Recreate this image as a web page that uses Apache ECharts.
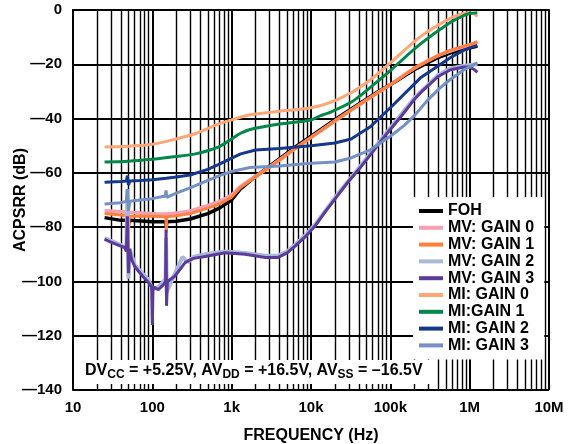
<!DOCTYPE html>
<html>
<head>
<meta charset="utf-8">
<script src="https://cdn.jsdelivr.net/npm/echarts@6/dist/echarts.min.js"></script>
<style>
html, body { margin: 0; padding: 0; background: #fff; }
#chart { width: 576px; height: 444px; }
</style>
</head>
<body>
<div id="chart"></div>
<script>
// [frequency Hz, dB]
var foh = [[25,-76.5],[40,-77.5],[48,-77.5],[49.5,-80],[51,-77.5],[100,-78],[148,-78],[150,-80],[152,-78],[200,-77.8],[300,-77],[500,-75],[700,-73],[1000,-70],[1280,-66],[2000,-61.3],[3000,-57.5],[6700,-50],[10000,-46.5],[23500,-39],[69000,-30.2],[100000,-27.5],[200000,-22],[400000,-17.5],[575000,-15.8],[1000000,-14],[1250000,-13.3]];
var mvGain0 = [[25,-74],[40,-74.3],[50,-74.5],[100,-75],[150,-75.2],[200,-74.8],[300,-74],[500,-72],[700,-70.5],[1000,-68],[1300,-65],[2000,-61.3],[3000,-57.8],[6700,-50.5],[10000,-47],[23500,-39.5],[69000,-30.5],[100000,-27.5],[200000,-21.5],[400000,-16.8],[1000000,-12.8],[1250000,-11.8]];
var mvGain1 = [[25,-75],[40,-75.5],[48,-75.8],[49.5,-88],[51,-76],[100,-76],[148,-76.2],[150,-82],[152,-76.2],[200,-75.8],[300,-75],[500,-73],[700,-71.5],[1000,-69],[1280,-65.5],[2000,-61.5],[3000,-58],[6700,-50.5],[10000,-47],[23500,-39.5],[69000,-30.5],[100000,-27.5],[200000,-21.5],[400000,-16.8],[575000,-14.8],[1000000,-12.8],[1250000,-11.7]];
var mvGain2 = [[25,-84],[30,-85],[40,-86.5],[47,-88],[48.5,-66],[50,-99],[52,-88],[60,-94],[75,-97],[90,-99.5],[100,-103],[120,-102],[147,-99],[149,-84],[152,-104],[193,-97],[240,-91],[280,-93],[330,-91],[464,-90],[830,-89],[1480,-89.5],[2650,-90.5],[3800,-90.5],[5000,-89],[6300,-86.5],[8500,-83],[11300,-79],[21500,-68],[42000,-57.5],[100000,-43.5],[200000,-32.5],[400000,-24],[575000,-21.5],[850000,-20.5],[1250000,-20]];
var mvGain3 = [[25,-84.5],[30,-85.5],[40,-87],[45,-87.5],[47,-89],[48.5,-76],[50,-97],[51.5,-88],[55,-92],[60,-94.5],[75,-98],[90,-100.5],[98,-102],[100,-116],[102,-102],[120,-103],[140,-101],[147,-100],[149,-81],[151,-109],[155,-100],[193,-98],[260,-93],[330,-91.5],[464,-90.8],[830,-89.4],[1480,-90],[2650,-91.2],[3800,-91.2],[5000,-89.5],[6300,-87],[8500,-83.5],[11300,-79.5],[15000,-74.5],[21500,-68.5],[30000,-63],[42000,-58],[61000,-52],[75000,-48.5],[100000,-44],[134000,-39.5],[200000,-33],[260000,-29.5],[400000,-24.5],[575000,-22],[850000,-21],[1000000,-21],[1150000,-22],[1250000,-23]];
var miGain0 = [[25,-50.5],[50,-50.2],[100,-49.5],[200,-47.5],[350,-45.5],[620,-42.5],[1000,-40.5],[1700,-38.6],[4000,-37.3],[10000,-36],[17600,-34],[31600,-30.6],[56000,-25.7],[100000,-19.5],[240000,-9.8],[575000,-3],[830000,-1.3],[1000000,-1],[1150000,-1.5],[1250000,-2.5]];
var miGain1 = [[25,-56],[50,-55.7],[100,-55],[200,-54],[350,-53],[700,-50.3],[1000,-47.5],[1280,-45.5],[1700,-44],[4000,-42],[10000,-40.5],[13000,-39],[18000,-37.5],[32000,-34],[42000,-31.5],[56000,-28.5],[100000,-22.3],[240000,-12.5],[575000,-4.5],[850000,-2],[1000000,-1.3],[1250000,-1]];
var miGain2 = [[25,-63.5],[40,-63.2],[47,-63],[48.5,-61],[50,-64.5],[52,-63],[70,-62.8],[100,-62.5],[150,-62],[200,-61.5],[300,-60.8],[500,-58.7],[700,-56.8],[1000,-54.6],[1300,-53],[2000,-51.6],[4000,-51],[10000,-50],[20000,-49],[32000,-47.5],[56000,-43],[100000,-36],[240000,-25],[575000,-17.5],[850000,-14.8],[1250000,-13]];
var miGain3 = [[25,-71.5],[40,-71],[47,-70.5],[48.5,-66],[50,-74],[52,-70.5],[70,-70],[100,-69.5],[145,-68.5],[149,-66.5],[152,-69],[200,-67.5],[300,-65.5],[400,-64],[700,-61],[1000,-59.5],[1700,-58],[4000,-57.5],[10000,-56.5],[20000,-56],[32000,-54.5],[56000,-51.5],[100000,-46.5],[150000,-42.5],[200000,-39],[300000,-33],[430000,-28.5],[575000,-25.5],[850000,-22],[1250000,-19.5]];

var decadeLabels = {1:'10', 2:'100', 3:'1k', 4:'10k', 5:'100k', 6:'1M', 7:'10M'};
// minor grid positions 2..9 x each decade
var minorGrid = [];
[10, 100, 1000, 10000, 100000, 1000000].forEach(function (d) {
    for (var m = 2; m <= 9; m++) minorGrid.push(m * d);
});

var FONT = 'Liberation Sans, Arial, sans-serif';

function curve(name, data, color, width, smooth) {
    return {
        name: name,
        type: 'line',
        data: data,
        symbol: 'none',
        showSymbol: false,
        smooth: smooth || false,
        animation: false,
        itemStyle: { color: color },
        lineStyle: { color: color, width: width || 3 }
    };
}

var chart = echarts.init(document.getElementById('chart'));
chart.setOption({
    animation: false,
    grid: { left: 73, right: 27, top: 10, bottom: 54, outerBoundsMode: 'none' },
    // supply line-up, drawn as a white box over the grid
    title: {
        text: '{m|DV}{s|CC}{m| = +5.25V, AV}{s|DD}{m| = +16.5V, AV}{s|SS}{m| = \u201316.5V}',
        left: 75,
        top: 358,
        backgroundColor: '#fff',
        padding: [3, 14, 3, 10],
        textStyle: {
            rich: {
                m: { fontFamily: FONT, fontWeight: 'bold', fontSize: 16, lineHeight: 20, color: '#000' },
                s: { fontFamily: FONT, fontWeight: 'bold', fontSize: 12, lineHeight: 12, verticalAlign: 'bottom', color: '#000' }
            }
        }
    },
    legend: {
        data: ['FOH', 'MV: GAIN 0', 'MV: GAIN 1', 'MV: GAIN 2', 'MV: GAIN 3', 'MI: GAIN 0', 'MI:GAIN 1', 'MI: GAIN 2', 'MI: GAIN 3'],
        orient: 'vertical',
        left: 413,
        top: 197,
        padding: [6, 10, 6, 6],
        backgroundColor: '#fff',
        itemGap: 0.8,
        itemWidth: 24,
        itemHeight: 4,
        icon: 'rect',
        selectedMode: false,
        textStyle: { fontFamily: FONT, fontWeight: 'bold', fontSize: 16, lineHeight: 15, color: '#000' }
    },
    xAxis: {
        type: 'log',
        logBase: 10,
        min: 10,
        max: 10000000,
        splitNumber: 6,
        name: 'FREQUENCY (Hz)',
        nameLocation: 'middle',
        nameGap: 38,
        nameMoveOverlap: false,
        nameTextStyle: { fontFamily: FONT, fontWeight: 'bold', fontSize: 16, color: '#000' },
        axisLine: { lineStyle: { color: '#000', width: 2 } },
        axisTick: { show: false },
        axisLabel: {
            margin: 10,
            fontFamily: FONT, fontWeight: 'bold', fontSize: 15, color: '#000',
            formatter: function (v) { return decadeLabels[Math.round(Math.log10(v))] || ''; }
        },
        splitLine: { show: true, lineStyle: { color: '#000', width: 2 } }
    },
    yAxis: {
        type: 'value',
        min: -140,
        max: 0,
        interval: 20,
        name: 'ACPSRR (dB)',
        nameLocation: 'middle',
        nameGap: 44,
        nameMoveOverlap: false,
        nameTextStyle: { fontFamily: FONT, fontWeight: 'bold', fontSize: 16, color: '#000' },
        axisLine: { show: true, lineStyle: { color: '#000', width: 2 } },
        axisTick: { show: false },
        axisLabel: {
            margin: 11,
            fontFamily: FONT, fontWeight: 'bold', fontSize: 15, color: '#000',
            formatter: function (v) { return v < 0 ? '\u2014' + (-v) : String(v); }
        },
        splitLine: { show: true, lineStyle: { color: '#000', width: 1.8 } }
    },
    series: [
        {
            name: 'grid-minor',
            type: 'line',
            data: [],
            z: 1,
            silent: true,
            markLine: {
                z: 1,
                silent: true,
                symbol: 'none',
                animation: false,
                label: { show: false },
                lineStyle: { color: '#000', width: 1.4, type: 'solid' },
                data: minorGrid.map(function (f) { return { xAxis: f }; })
            }
        },
        curve('FOH', foh, '#000000', 3.5),
        curve('MV: GAIN 0', mvGain0, '#f2a0b2', 3.5, 0.3),
        curve('MV: GAIN 1', mvGain1, '#ff7f3c', 3),
        curve('MV: GAIN 2', mvGain2, '#a9bad8', 4),
        curve('MV: GAIN 3', mvGain3, '#5b3a9c', 3),
        curve('MI: GAIN 0', miGain0, '#ffa774', 3, 0.3),
        curve('MI:GAIN 1', miGain1, '#00874a', 3, 0.3),
        curve('MI: GAIN 2', miGain2, '#15388a', 3),
        curve('MI: GAIN 3', miGain3, '#7391c4', 3)
    ]
});
</script>
</body>
</html>
